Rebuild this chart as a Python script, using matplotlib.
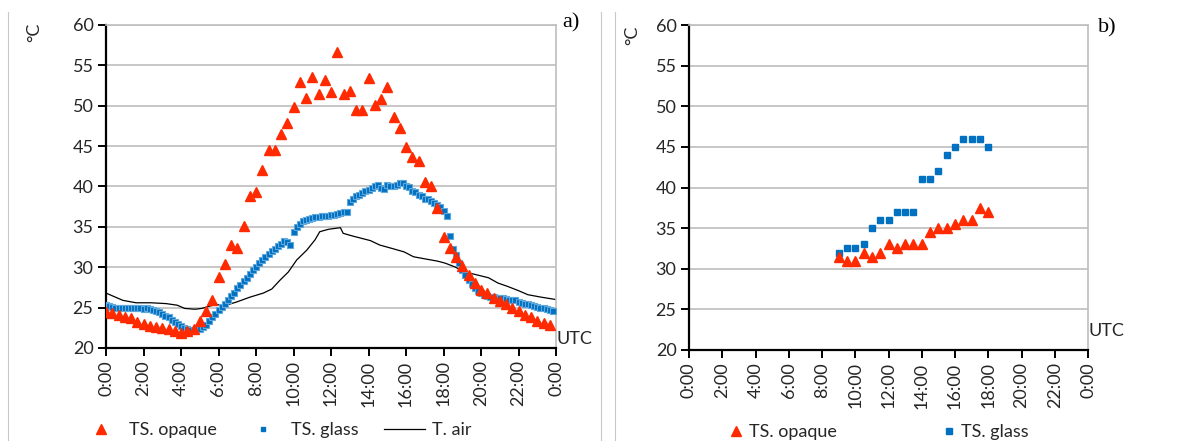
import numpy as np
import matplotlib
matplotlib.use('Agg')
import matplotlib.pyplot as plt
from matplotlib.lines import Line2D

plt.rcParams['font.family'] = ['Lato', 'DejaVu Sans']

# --- a) full day, 20-min opaque, 10-min glass, air line ---
opaque_a = [24.5, 24.3, 24.1, 23.9, 23.7, 23.2, 23.0, 22.7, 22.6, 22.5,
            22.3, 22.1, 21.8, 22.1, 22.3, 23.3, 24.6, 25.9, 28.8, 30.4,
            32.8, 32.4, 35.1, 38.8, 39.3, 42.0, 44.5, 44.5, 46.5, 47.9,
            49.8, 53.0, 51.0, 53.5, 51.4, 53.2, 51.7, 56.6, 51.5, 51.8,
            49.5, 49.5, 53.4, 50.1, 50.8, 52.3, 48.6, 47.2, 44.9, 43.7,
            43.2, 40.6, 40.0, 37.3, 33.8, 32.4, 31.3, 30.1, 29.1, 28.0,
            27.2, 26.8, 26.2, 25.8, 25.4, 24.9, 24.6, 24.1, 23.8, 23.4,
            23.1, 22.9]
glass_a = [25.3, 25.2, 25.1, 25.0, 25.0, 24.9,
           24.9, 24.9, 25.0, 24.9, 24.9, 24.9,
           24.8, 24.9, 24.8, 24.7, 24.6, 24.5,
           24.2, 24.0, 23.8, 23.5, 23.2, 23.0,
           22.7, 22.5, 22.3, 22.2, 22.2, 22.3,
           22.4, 22.6, 22.9, 23.3, 23.8, 24.2,
           24.7, 25.1, 25.5, 25.9, 26.4, 26.8,
           27.4, 27.8, 28.3, 28.7, 29.2, 29.6,
           30.0, 30.5, 30.9, 31.3, 31.6, 32.0,
           32.3, 32.6, 32.9, 33.2, 33.1, 32.8,
           34.4, 35.0, 35.4, 35.7, 35.9, 36.0,
           36.1, 36.2, 36.2, 36.3, 36.4, 36.4,
           36.5, 36.5, 36.6, 36.7, 36.8, 36.9,
           38.1, 38.5, 38.8, 39.0, 39.2, 39.4,
           39.6, 39.8, 40.1, 40.2, 39.8, 39.7,
           40.2, 40.1, 40.0, 40.2, 40.4, 40.4,
           40.1, 39.9, 39.5, 39.3, 39.0, 38.8,
           38.5, 38.4, 38.2, 37.9, 37.7, 37.4,
           37.0, 36.4, 33.9, 32.3, 31.5, 30.5,
           29.6, 29.0, 28.4, 27.9, 27.4, 27.1,
           26.8, 26.6, 26.4, 26.3, 26.3, 26.2,
           26.2, 26.2, 26.1, 26.0, 25.9, 25.9,
           25.7, 25.6, 25.5, 25.4, 25.3, 25.2,
           25.1, 25.0, 24.9, 24.8, 24.7, 24.6]
air_t = [0, 0.4, 0.9, 1.6, 2.4, 3.2, 3.8, 4.2, 4.75, 5.1, 5.55, 5.9, 6.26,
         6.97, 7.68, 8.39, 8.84, 9.28, 9.72, 10.17, 10.7, 11.15, 11.4, 11.86,
         12.5, 12.65, 13.18, 14.1, 14.6, 15.3, 15.9, 16.4, 17.1, 17.7, 18.1,
         18.6, 19.15, 19.7, 20.4, 20.9, 21.45, 22.0, 22.5, 23.2, 24.0]
air_a = [26.8, 26.4, 25.9, 25.6, 25.6, 25.5, 25.3, 24.9, 24.8, 24.9, 25.2,
         25.4, 25.2, 25.7, 26.3, 26.8, 27.3, 28.4, 29.4, 30.9, 32.1, 33.4,
         34.4, 34.7, 34.9, 34.2, 33.85, 33.3, 32.75, 32.3, 31.9, 31.3, 31.0,
         30.75, 30.5, 30.05, 29.4, 29.1, 28.7, 28.05, 27.6, 27.1, 26.6, 26.3,
         26.0]

# --- b) daytime half-hourly ---
hours_b = [9, 9.5, 10, 10.5, 11, 11.5, 12, 12.5, 13, 13.5, 14, 14.5, 15,
           15.5, 16, 16.5, 17, 17.5, 18]
opaque_b = [31.5, 31, 31, 32, 31.5, 32, 33, 32.5, 33, 33, 33, 34.5, 35,
            35, 35.5, 36, 36, 37.5, 37]
glass_b = [32, 32.5, 32.5, 33, 35, 36, 36, 37, 37, 37, 41, 41, 42, 44, 45,
           46, 46, 46, 45]

xticks = list(range(0, 25, 2))
xticklabels = [f'{h % 24}:00' for h in xticks]

RED = '#FF2A00'
BLUE = '#0070C0'
TXT = '#262626'

fig = plt.figure(figsize=(11.92, 4.41), dpi=100)
W, H = 1192, 441
ax_a = fig.add_axes([106/W, 1-348/H, 450/W, 323/H])
ax_b = fig.add_axes([689/W, 1-350/H, 399/W, 325/H])


def style(ax):
    ax.set_xlim(0, 24)
    ax.set_ylim(20, 60)
    ax.set_yticks(range(20, 61, 5))
    ax.set_xticks(xticks)
    ax.set_xticklabels(xticklabels, rotation=90)
    ax.yaxis.grid(True, color='#BEBEBE', lw=1.2)
    ax.set_axisbelow(True)
    for s in ['left', 'bottom']:
        ax.spines[s].set_color('black')
        ax.spines[s].set_linewidth(1.6)
    for s in ['top', 'right']:
        ax.spines[s].set_color('#BEBEBE')
        ax.spines[s].set_linewidth(1.2)
    ax.tick_params(axis='both', direction='out', length=6, width=1.4,
                   labelsize=13, labelcolor=TXT, pad=3)


t_op = np.arange(len(opaque_a)) / 3
t_gl = np.arange(len(glass_a)) / 6
ax_a.plot(air_t, air_a, color='black', lw=0.9, label='T. air', zorder=2)
ax_a.plot(t_gl, glass_a, ls='none', marker='s', ms=4, color=BLUE,
          mec='#5FA8DD', mew=0.8, label='TS. glass', zorder=3)
ax_a.plot(t_op, opaque_a, ls='none', marker='^', ms=7, color=RED,
          mec=RED, label='TS. opaque', zorder=4)
style(ax_a)

ax_b.plot(hours_b, glass_b, ls='none', marker='s', ms=4.5, color=BLUE,
          label='TS. glass', zorder=3)
ax_b.plot(hours_b, opaque_b, ls='none', marker='^', ms=7.5, color=RED,
          label='TS. opaque', zorder=4)
style(ax_b)

# legends
h_op = Line2D([], [], ls='none', marker='^', ms=7, color=RED)
h_gl = Line2D([], [], ls='none', marker='s', ms=3.5, color=BLUE)
h_air = Line2D([], [], color='black', lw=0.9)
fig.legend([h_op, h_gl, h_air], ['TS. opaque', 'TS. glass', 'T. air'],
           loc='center', bbox_to_anchor=(276/W, 1-430/H), ncol=3,
           frameon=False, fontsize=13, handlelength=2.3, handletextpad=0.4,
           columnspacing=1.4, labelcolor=TXT)
h_gl2 = Line2D([], [], ls='none', marker='s', ms=5, color=BLUE)
fig.legend([h_op, h_gl2], ['TS. opaque', 'TS. glass'],
           loc='center', bbox_to_anchor=(878/W, 1-432/H), ncol=2,
           frameon=False, fontsize=13, handlelength=1, handletextpad=0.2,
           columnspacing=5.7, labelcolor=TXT)

# labels
for x, y in [(34, 32), (632, 35)]:
    fig.text(x/W, 1-y/H, '°C', rotation=90, ha='center', va='center',
             fontsize=13, color=TXT)
fig.text(571/W, 1-23/H, 'a)', ha='center', va='center', fontsize=16,
         family='Liberation Serif')
fig.text(1107/W, 1-28/H, 'b)', ha='center', va='center', fontsize=16,
         family='Liberation Serif')
fig.text(557/W, 1-339/H, 'UTC', ha='left', va='center', fontsize=13,
         color=TXT)
fig.text(1088/W, 1-331/H, 'UTC', ha='left', va='center', fontsize=13,
         color=TXT)

# panel frame lines
for x in [8, 601, 615]:
    fig.add_artist(Line2D([x/W, x/W], [0, 1-12/H], color='#C8C8C8', lw=0.8))

fig.savefig('out.png', dpi=100)
